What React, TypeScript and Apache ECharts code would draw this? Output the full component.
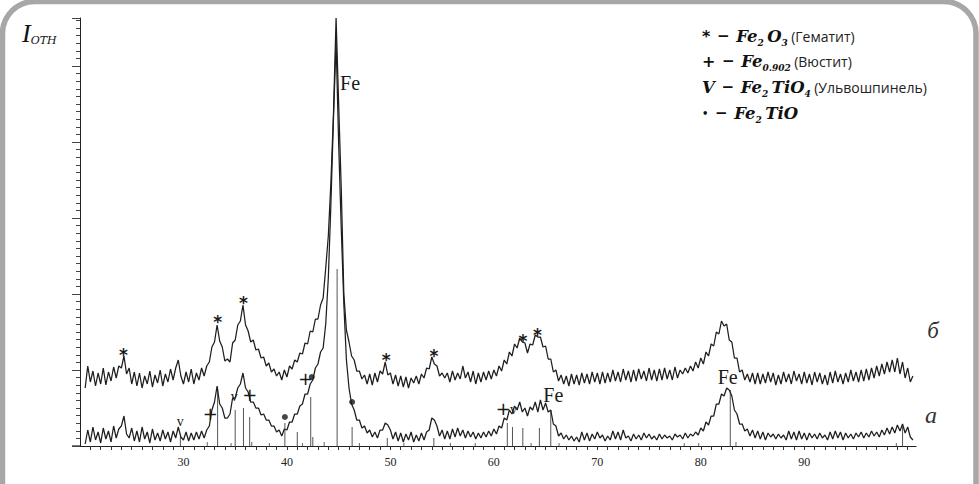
import React, { useEffect, useRef } from "react";
import * as echarts from "echarts";

// 2θ grid of the scan (degrees)
const X_START = 20.5;
const X_STEP = 0.25;

// Curve "б" (upper), relative intensity
const curveB = [
  58, 80, 64, 75, 60, 73, 62, 78, 61, 74, 65, 79, 68, 80, 78, 90, 72, 78, 62, 74,
  60, 73, 58, 70, 62, 75, 59, 71, 63, 76, 60, 72, 64, 77, 66, 78, 86, 70, 62, 74,
  64, 77, 62, 73, 66, 78, 70, 80, 84, 99, 104, 121, 105, 99, 85, 87, 84, 103, 106, 121,
  125, 141, 121, 115, 104, 106, 96, 97, 88, 89, 80, 83, 74, 77, 70, 74, 66, 76, 69, 80,
  77, 86, 84, 93, 92, 103, 102, 115, 114, 127, 127, 141, 148, 178, 210, 264, 333, 428, 342, 258,
  152, 116, 104, 90, 86, 75, 75, 67, 71, 62, 72, 61, 73, 64, 75, 72, 84, 71, 73, 62,
  71, 60, 70, 59, 69, 58, 68, 63, 70, 62, 72, 68, 78, 77, 89, 82, 80, 70, 73, 68,
  73, 64, 75, 66, 73, 67, 80, 68, 74, 64, 75, 62, 73, 64, 74, 66, 75, 67, 76, 70,
  80, 75, 86, 82, 94, 90, 102, 98, 108, 104, 103, 93, 102, 101, 111, 109, 109, 99, 100, 87,
  87, 74, 76, 65, 71, 62, 70, 60, 72, 62, 71, 61, 73, 63, 72, 62, 74, 64, 73, 62,
  74, 63, 73, 64, 76, 65, 74, 64, 77, 66, 75, 64, 76, 65, 77, 67, 75, 65, 78, 66,
  76, 65, 77, 66, 78, 67, 76, 66, 79, 68, 76, 72, 78, 73, 80, 75, 84, 78, 88, 82,
  94, 90, 102, 100, 114, 112, 125, 120, 122, 106, 104, 88, 88, 74, 76, 66, 72, 64, 73, 62,
  73, 62, 72, 63, 74, 64, 73, 61, 71, 62, 74, 64, 72, 62, 75, 65, 72, 62, 74, 63,
  72, 61, 74, 64, 73, 62, 71, 61, 74, 63, 75, 64, 72, 62, 73, 64, 76, 65, 74, 64,
  76, 65, 77, 66, 78, 68, 80, 70, 82, 72, 84, 74, 86, 74, 88, 72, 84, 68, 78, 64,
  70,
];

// Curve "а" (lower), relative intensity
const curveA = [
  2, 16, 4, 19, 6, 14, 3, 18, 7, 15, 4, 20, 8, 17, 20, 30, 12, 8, 18, 5,
  15, 4, 19, 7, 14, 3, 17, 6, 13, 5, 16, 7, 14, 4, 15, 8, 19, 9, 6, 14,
  5, 13, 6, 14, 7, 15, 8, 16, 20, 36, 44, 60, 42, 38, 28, 28, 32, 48, 48, 58,
  62, 73, 58, 54, 44, 44, 38, 38, 31, 32, 26, 26, 20, 20, 14, 16, 10, 17, 16, 24,
  24, 32, 32, 40, 42, 52, 52, 62, 66, 78, 82, 94, 98, 122, 168, 242, 328, 405, 302, 218,
  142, 86, 58, 42, 36, 26, 26, 18, 20, 13, 16, 9, 14, 8, 16, 16, 23, 21, 16, 7,
  14, 5, 13, 4, 12, 6, 14, 4, 11, 5, 13, 6, 14, 16, 28, 26, 20, 10, 16, 7,
  15, 7, 17, 9, 18, 10, 16, 8, 15, 9, 14, 7, 13, 8, 14, 9, 15, 10, 17, 12,
  20, 18, 28, 26, 36, 32, 40, 36, 44, 34, 38, 30, 39, 36, 44, 34, 46, 36, 43, 34,
  36, 22, 20, 10, 13, 7, 11, 6, 10, 5, 9, 4, 14, 6, 13, 5, 12, 7, 14, 8,
  11, 5, 10, 6, 15, 7, 14, 6, 16, 8, 10, 5, 12, 7, 11, 6, 13, 8, 12, 7,
  10, 6, 12, 7, 11, 8, 10, 6, 12, 9, 11, 7, 13, 8, 12, 10, 14, 11, 18, 15,
  24, 21, 30, 30, 42, 42, 52, 50, 58, 56, 50, 36, 32, 22, 22, 15, 17, 10, 16, 8,
  15, 7, 14, 6, 13, 9, 12, 7, 12, 8, 11, 6, 15, 7, 14, 6, 15, 7, 13, 6,
  13, 8, 12, 7, 13, 8, 11, 6, 14, 7, 15, 8, 14, 6, 13, 8, 12, 7, 13, 9,
  14, 8, 13, 9, 15, 10, 14, 9, 16, 11, 18, 12, 19, 13, 21, 15, 22, 13, 19, 9,
  6,
];

// Reference lines [2θ, height]
const sticks = [
  [29.7, 9], [33.3, 59], [35.0, 36], [35.8, 38], [36.4, 29], [39.8, 23],
  [41.0, 14], [42.3, 49], [42.5, 9], [44.85, 177], [46.3, 19], [49.7, 8],
  [54.2, 8], [61.3, 23], [61.8, 19], [62.8, 18], [64.4, 18], [65.5, 36],
  [82.85, 56], [99.5, 19],
];
const tinySticks = [
  [32.3, 4], [34.6, 3], [36.6, 4], [38.3, 3], [41.5, 3], [43.6, 4], [47.0, 3],
  [51.3, 3], [55.8, 3], [58.2, 3], [63.6, 3], [66.3, 3], [78.4, 3], [79.8, 3],
  [83.4, 4], [98.9, 3],
];

// Phase marks [2θ, height]
const starMarks = [[24.2, 96], [33.3, 129], [35.8, 148], [49.6, 91], [54.2, 95], [62.8, 110], [64.2, 116]];
const plusMarks = [[32.6, 33], [36.4, 52], [41.8, 68], [60.9, 38]];
const vMarks = [[29.7, 24], [34.9, 49], [61.9, 36]];
const dotMarks = [[39.8, 29], [42.4, 69], [46.3, 44]];
const feMarks = [[46.1, 363], [65.75, 51], [82.6, 69]];

const xTickLabels = [30, 40, 50, 60, 70, 80, 90];

const legendRows = [
  "{s|*}  {d|−}  {fe|Fe}{sub|2} {fe|O}{sub|3} {ru|(Гематит)}",
  "{s|+}  {d|−}  {fe|Fe}{sub|0.902} {ru|(Вюстит)}",
  "{fe|V}  {d|−}  {fe|Fe}{sub|2} {fe|TiO}{sub|4} {ru|(Ульвошпинель)}",
  "{b|•}  {d|−}  {fe|Fe}{sub|2} {fe|TiO}",
];
const legendY = [36, 61, 87, 113];

const toXY = (arr: number[]) => arr.map((v, i) => [X_START + i * X_STEP, v]);

const textSeries = (data: number[][], text: string, f: any) => ({
  type: "custom",
  silent: true,
  data,
  z: 6,
  renderItem: (params: any, api: any) => {
    const p = api.coord([api.value(0), api.value(1)]);
    return {
      type: "text",
      x: p[0],
      y: p[1] + (f.dy || 0),
      style: {
        text,
        fill: "#1a1a1a",
        fontSize: f.size,
        fontFamily: f.family,
        fontWeight: f.weight || "normal",
        align: "center",
        verticalAlign: "middle",
      },
    };
  },
});

const stickSeries = (data: number[][], color: string) => ({
  type: "custom",
  silent: true,
  data,
  z: 2,
  renderItem: (params: any, api: any) => {
    const x = api.value(0);
    const h = api.value(1);
    const p0 = api.coord([x, 0]);
    const p1 = api.coord([x, h]);
    return {
      type: "line",
      shape: { x1: p0[0], y1: p0[1], x2: p1[0], y2: p1[1] },
      style: { stroke: color, lineWidth: 1 },
    };
  },
});

export default function App() {
  const ref = useRef<HTMLDivElement>(null);
  useEffect(() => {
    if (!ref.current) return;
    const chart = echarts.init(ref.current, undefined, { renderer: "svg" });
    const richLegend = {
      s: { fontFamily: "DejaVu Sans", fontWeight: "bold", fontSize: 16, fill: "#111" },
      b: { fontFamily: "DejaVu Sans", fontWeight: "bold", fontSize: 10, fill: "#111" },
      d: { fontFamily: "DejaVu Sans", fontWeight: "bold", fontSize: 15, fill: "#111" },
      fe: { fontFamily: "DejaVu Serif", fontStyle: "italic", fontWeight: "bold", fontSize: 16.5, lineHeight: 22, fill: "#111" },
      sub: { fontFamily: "DejaVu Serif", fontStyle: "italic", fontWeight: "bold", fontSize: 9, verticalAlign: "bottom", fill: "#111" },
      ru: { fontFamily: "Open Sans", fontSize: 14, fill: "#222" },
    };
    chart.setOption({
      animation: false,
      backgroundColor: "#ffffff",
      grid: { left: 80, right: 63, top: 18, bottom: 38, containLabel: false },
      xAxis: {
        type: "value",
        min: 20,
        max: 100.8,
        interval: 1,
        axisLine: { show: true, onZero: false, lineStyle: { color: "#222", width: 1.2 } },
        axisTick: { show: true, length: 4, lineStyle: { color: "#333" } },
        axisLabel: {
          formatter: (v: number) => (xTickLabels.indexOf(Math.round(v * 1000) / 1000) >= 0 ? String(Math.round(v)) : ""),
          fontFamily: "Liberation Serif",
          fontSize: 12,
          color: "#222",
          margin: 10,
          showMinLabel: false,
          showMaxLabel: false,
        },
        splitLine: { show: false },
      },
      yAxis: [
        {
          type: "value",
          min: 0,
          max: 428,
          interval: 7.6,
          axisLine: { show: true, onZero: false, lineStyle: { color: "#222", width: 1 } },
          axisTick: { show: true, length: 4, lineStyle: { color: "#444" } },
          axisLabel: { show: false },
          splitLine: { show: false },
        },
        {
          type: "value",
          position: "left",
          offset: 0,
          min: 0,
          max: 428,
          interval: 76,
          axisLine: { show: false },
          axisTick: { show: true, length: 8, lineStyle: { color: "#444" } },
          axisLabel: { show: false },
          splitLine: { show: false },
        },
      ],
      series: [
        stickSeries(sticks, "#555"),
        stickSeries(tinySticks, "#666"),
        {
          type: "line",
          data: toXY(curveB),
          showSymbol: false,
          silent: true,
          z: 4,
          lineStyle: { color: "#1e1e1e", width: 1.25 },
        },
        {
          type: "line",
          data: toXY(curveA),
          showSymbol: false,
          silent: true,
          z: 4,
          lineStyle: { color: "#1e1e1e", width: 1.25 },
        },
        textSeries(starMarks, "*", { family: "DejaVu Sans", weight: "bold", size: 17, dy: 5 }),
        textSeries(plusMarks, "+", { family: "DejaVu Sans", size: 18, dy: 0 }),
        textSeries(vMarks, "v", { family: "Liberation Serif", size: 14, dy: -1 }),
        textSeries(feMarks, "Fe", { family: "Liberation Serif", size: 20, dy: 0 }),
        {
          type: "scatter",
          silent: true,
          symbol: "circle",
          symbolSize: 6,
          itemStyle: { color: "#151515" },
          data: dotMarks,
          z: 6,
        },
      ],
      graphic: [
        {
          type: "rect",
          silent: true,
          shape: { x: 2.5, y: 1.5, width: 973.5, height: 560, r: 32 },
          style: { fill: "none", stroke: "#a7a7a7", lineWidth: 5.5 },
        },
        {
          type: "line",
          silent: true,
          shape: { x1: 72, y1: 446, x2: 80, y2: 446 },
          style: { stroke: "#222", lineWidth: 1.2 },
        },
        {
          type: "text",
          silent: true,
          x: 22,
          y: 33,
          style: {
            text: "{i|I}{o|OTH}",
            verticalAlign: "middle",
            rich: {
              i: { fontFamily: "Liberation Serif", fontStyle: "italic", fontSize: 26, lineHeight: 26, fill: "#111" },
              o: { fontFamily: "DejaVu Serif", fontStyle: "italic", fontSize: 11, verticalAlign: "bottom", fill: "#111" },
            },
          },
        },
        ...legendRows.map((t, i) => ({
          type: "text",
          silent: true,
          x: 702,
          y: legendY[i],
          style: { text: t, verticalAlign: "middle", align: "left", rich: richLegend },
        })),
        {
          type: "text",
          silent: true,
          x: 933,
          y: 330,
          style: { text: "б", align: "center", verticalAlign: "middle", fontFamily: "Liberation Serif", fontStyle: "italic", fontSize: 23, fill: "#333" },
        },
        {
          type: "text",
          silent: true,
          x: 931,
          y: 415,
          style: { text: "а", align: "center", verticalAlign: "middle", fontFamily: "Liberation Serif", fontStyle: "italic", fontSize: 24, fill: "#333" },
        },
      ],
    });
    return () => chart.dispose();
  }, []);
  return (
    <div
      ref={ref}
      style={{ position: "fixed", left: 0, top: 0, width: 979, height: 484, background: "#fff" }}
    />
  );
}
